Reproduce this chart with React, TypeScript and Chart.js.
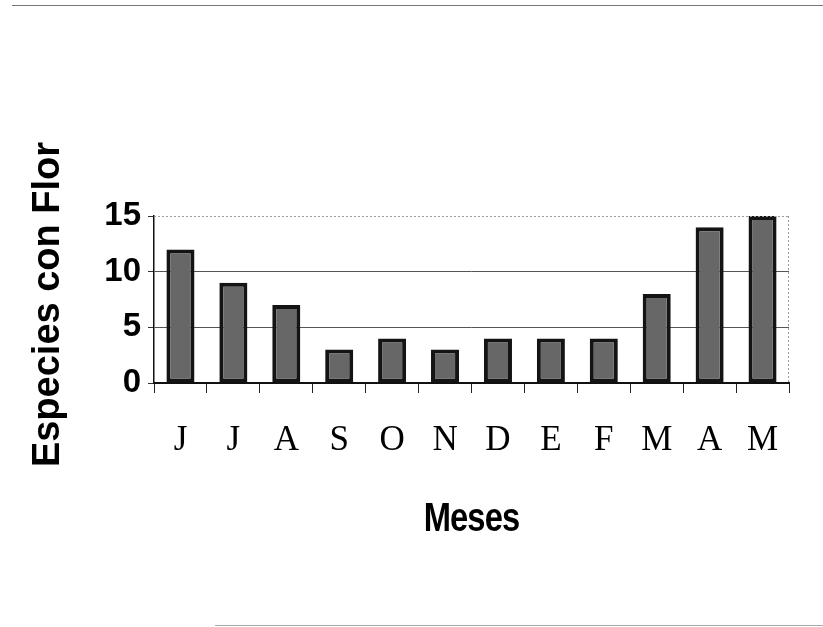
import React, { useEffect, useRef } from "react";
import { Chart, registerables } from "chart.js";

Chart.register(...registerables);

const months = ["J", "J", "A", "S", "O", "N", "D", "E", "F", "M", "A", "M"];
const speciesInFlower = [12, 9, 7, 3, 4, 3, 4, 4, 4, 8, 14, 15];
const yTicks = [0, 5, 10, 15];
const yTitle = "Especies con Flor";
const xTitle = "Meses";

const W = 823;
const H = 627;
const SANS = "'Liberation Sans', Arial, Helvetica, sans-serif";

// dotted frame along the top gridline and the right edge of the plot
const framePlugin = {
  id: "frame",
  afterDraw(chart: any) {
    const { ctx, chartArea } = chart;
    ctx.save();
    ctx.strokeStyle = "#9a9a9a";
    ctx.lineWidth = 1;
    ctx.setLineDash([2, 2]);
    ctx.beginPath();
    ctx.moveTo(chartArea.left, chartArea.top + 0.5);
    ctx.lineTo(chartArea.right, chartArea.top + 0.5);
    ctx.moveTo(chartArea.right - 0.5, chartArea.top);
    ctx.lineTo(chartArea.right - 0.5, chartArea.bottom);
    ctx.stroke();
    ctx.restore();
  },
};

// axis titles: a rotated bold y title and a condensed bold x title
const titlesPlugin = {
  id: "axisTitles",
  afterDraw(chart: any) {
    const { ctx, chartArea } = chart;
    ctx.save();
    ctx.fillStyle = "#000";
    ctx.textAlign = "center";
    ctx.textBaseline = "middle";

    ctx.save();
    ctx.translate(49, (chartArea.top + chartArea.bottom) / 2 + 5);
    ctx.rotate(-Math.PI / 2);
    ctx.font = `bold 38px ${SANS}`;
    ctx.fillText(yTitle, 0, 0);
    ctx.restore();

    ctx.save();
    ctx.translate((chartArea.left + chartArea.right) / 2, 520);
    ctx.scale(0.86, 1.05);
    ctx.font = `bold 38px ${SANS}`;
    (ctx as any).letterSpacing = "-1px";
    ctx.fillText(xTitle, 0, 0);
    ctx.restore();

    ctx.restore();
  },
};

export default function App() {
  const ref = useRef<HTMLCanvasElement | null>(null);

  useEffect(() => {
    if (!ref.current) return;
    const chart = new Chart(ref.current, {
      type: "bar",
      data: {
        labels: months,
        datasets: [
          {
            data: speciesInFlower,
            backgroundColor: "#676767",
            borderColor: "#141414",
            borderWidth: 4,
            borderSkipped: false,
            barPercentage: 0.53,
            categoryPercentage: 1,
          },
        ],
      },
      options: {
        responsive: false,
        animation: false,
        events: [],
        layout: { padding: { top: 216, right: 34, left: 0, bottom: 0 } },
        plugins: { legend: { display: false }, tooltip: { enabled: false } },
        scales: {
          x: {
            offset: true,
            grid: {
              offset: true,
              drawOnChartArea: false,
              drawTicks: true,
              tickLength: 10,
              color: "#222",
              tickColor: "#222",
            },
            border: { color: "#111", width: 2 },
            ticks: {
              color: "#000",
              padding: 27,
              maxRotation: 0,
              autoSkip: false,
              font: { family: "'Liberation Serif', 'Times New Roman', serif", size: 35 },
            },
            afterFit(scale: any) {
              scale.height = H - 383;
            },
          },
          y: {
            min: 0,
            max: 15,
            afterBuildTicks(scale: any) {
              scale.ticks = yTicks.map((v) => ({ value: v }));
            },
            grid: {
              drawTicks: true,
              tickLength: 6,
              color: (ctx: any) => {
                const v = ctx.tick && ctx.tick.value;
                if (v === 15) return "rgba(0,0,0,0)";
                if (v === 0) return "#111";
                return "#555";
              },
              tickColor: "#333",
            },
            border: { color: "#111", width: 1.5 },
            ticks: {
              color: "#000",
              padding: 7,
              font: { family: SANS, size: 33, weight: "bold" },
            },
            afterFit(scale: any) {
              scale.width = 154;
            },
          },
        },
      },
      plugins: [framePlugin, titlesPlugin],
    });
    return () => chart.destroy();
  }, []);

  return (
    <div style={{ position: "absolute", left: 0, top: 0, width: W, height: H, background: "#fff" }}>
      <div style={{ position: "absolute", left: 12, right: 0, top: 5, height: 1, background: "#777" }} />
      <div style={{ position: "absolute", left: 215, right: 0, top: 625, height: 1, background: "#aaa" }} />
      <canvas ref={ref} width={W} height={H} style={{ position: "absolute", left: 0, top: 0 }} />
    </div>
  );
}
